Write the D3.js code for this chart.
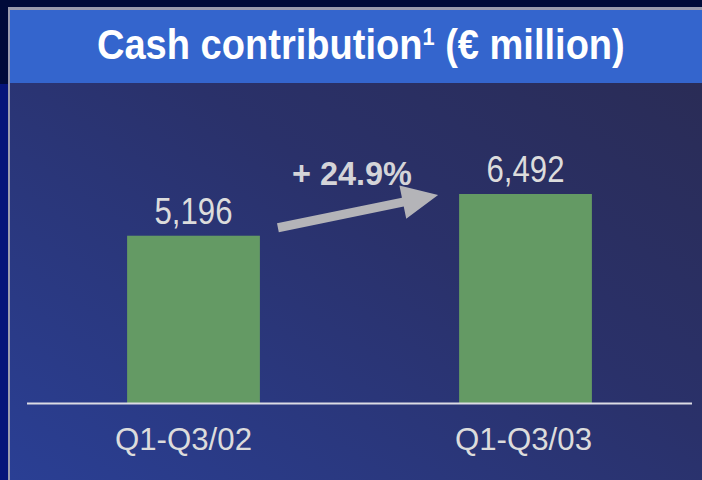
<!DOCTYPE html>
<html>
<head>
<meta charset="utf-8">
<script src="https://cdn.jsdelivr.net/npm/d3@7"></script>
<style>
  html, body { margin: 0; padding: 0; background: #000b3a; }
  svg { display: block; }
</style>
</head>
<body>
<div id="chart"></div>
<script>
// data
var categories = ["Q1-Q3/02", "Q1-Q3/03"];
var values = [5196, 6492];
var title_main = "Cash contribution";
var title_note = "1";
var title_rest = " (€ million)";

var W = 702, H = 480;

var svg = d3.select("#chart")
  .append("svg")
  .attr("width", W)
  .attr("height", H)
  .style("font-family", "'Liberation Sans', Arial, sans-serif");

var defs = svg.append("defs");
var grad = defs.append("linearGradient")
  .attr("id", "bg")
  .attr("x1", "0%").attr("y1", "100%")
  .attr("x2", "100%").attr("y2", "0%");
grad.append("stop").attr("offset", "0%").attr("stop-color", "#2a3f94");
grad.append("stop").attr("offset", "55%").attr("stop-color", "#2a316a");
grad.append("stop").attr("offset", "100%").attr("stop-color", "#2a2b52");

// frame
svg.append("rect").attr("width", W).attr("height", H).attr("fill", "#000b3a");
svg.append("rect").attr("x", 0).attr("y", 84).attr("width", 8).attr("height", H-84).attr("fill", "#05157a");
svg.append("rect").attr("x", 8).attr("y", 7).attr("width", W-8).attr("height", H-7).attr("fill", "#9a9cae");
svg.append("rect").attr("x", 10).attr("y", 10).attr("width", W-10).attr("height", H-10).attr("fill", "url(#bg)");
svg.append("rect").attr("x", 10).attr("y", 10).attr("width", W-10).attr("height", 73).attr("fill", "#3465cd");

// fit a text to a width by squeezing it horizontally
function fit(sel, w, x, anchor) {
  var len = sel.node().getComputedTextLength();
  var k = w / len;
  sel.attr("transform", "translate(" + x + ",0) scale(" + k + ",1) translate(" + (-x) + ",0)");
}

var title = svg.append("text")
  .attr("x", 97)
  .attr("y", 59)
  .attr("fill", "#fff")
  .style("font-weight", "bold")
  .style("font-size", "42px");
title.append("tspan").text(title_main);
title.append("tspan").attr("dy", -14).style("font-size", "24px").text(title_note);
title.append("tspan").attr("dy", 14).text(title_rest);
fit(title, 528, 97);

var x = d3.scaleBand()
  .domain(categories)
  .range([27.5, 691.5])
  .paddingInner(0.6)
  .paddingOuter(0.3);

var y = d3.scaleLinear()
  .domain([0, values[1]])
  .range([403, 194]);

var rows = categories.map((c, i) => ({cat: c, val: values[i]}));

svg.selectAll(".bar")
  .data(rows)
  .enter().append("rect")
  .attr("class", "bar")
  .attr("x", d => x(d.cat))
  .attr("y", d => y(d.val))
  .attr("width", x.bandwidth())
  .attr("height", d => y(0) - y(d.val))
  .attr("fill", "#649a64");

// baseline
svg.append("line")
  .attr("x1", 27).attr("x2", 692)
  .attr("y1", y(0) + 0.5).attr("y2", y(0) + 0.5)
  .attr("stroke", "#dcdce4")
  .attr("stroke-width", 2);

var fmt = d3.format(",");
svg.selectAll(".val")
  .data(rows)
  .enter().append("text")
  .attr("class", "val")
  .attr("text-anchor", "middle")
  .attr("x", d => x(d.cat) + x.bandwidth()/2)
  .attr("y", d => y(d.val) - 12)
  .attr("fill", "#dcdcdc")
  .style("font-size", "36px")
  .text(d => fmt(d.val))
  .each(function(d) { fit(d3.select(this), 78, x(d.cat) + x.bandwidth()/2); });

var cats = svg.selectAll(".cat")
  .data(rows)
  .enter().append("text")
  .attr("class", "cat")
  .attr("text-anchor", "middle")
  .attr("x", (d, i) => x(d.cat) + x.bandwidth()/2 - (i ? 2 : 10))
  .attr("y", 450)
  .attr("fill", "#dcdcdc")
  .style("font-size", "32px")
  .text(d => d.cat);
cats.each(function(d, i) { fit(d3.select(this), 137, x(d.cat) + x.bandwidth()/2 - (i ? 2 : 10)); });

// growth arrow between the bars
var x0 = x(categories[0]) + x.bandwidth() + 18, y0 = y(values[0]) - 8;
var x1 = x(categories[1]) - 21, y1 = y(values[1]) + 1;
var ang = Math.atan2(y1 - y0, x1 - x0);
var headL = 36, headW = 17, shaft = 4.5;
var ux = Math.cos(ang), uy = Math.sin(ang), nx = -uy, ny = ux;
var bx = x1 - ux*headL, by = y1 - uy*headL;
var pts = [
  [x0 + nx*shaft, y0 + ny*shaft],
  [bx + nx*shaft, by + ny*shaft],
  [bx + nx*headW, by + ny*headW],
  [x1, y1],
  [bx - nx*headW, by - ny*headW],
  [bx - nx*shaft, by - ny*shaft],
  [x0 - nx*shaft, y0 - ny*shaft]
];
svg.append("path")
  .attr("d", d3.line()(pts) + "Z")
  .attr("fill", "#b4b4b8");

var growth = values[1] / values[0] - 1;
var gl = svg.append("text")
  .attr("text-anchor", "middle")
  .attr("x", 352)
  .attr("y", 185)
  .attr("fill", "#d4d4d8")
  .style("font-size", "34px")
  .style("font-weight", "bold")
  .text("+ " + d3.format(".1f")(growth*100) + "%");
fit(gl, 120, 352);
</script>
</body>
</html>
